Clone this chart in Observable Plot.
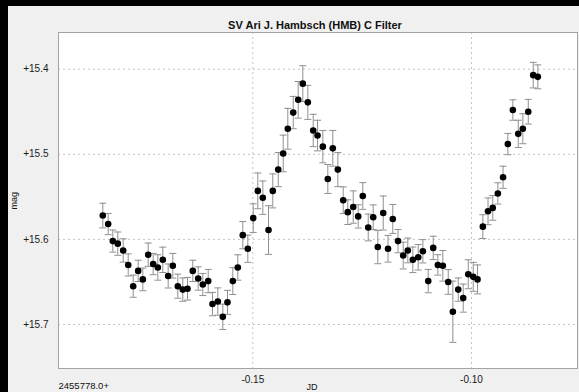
<!DOCTYPE html>
<html>
<head>
<meta charset="utf-8">
<script src="https://cdn.jsdelivr.net/npm/d3@7"></script>
<script src="https://cdn.jsdelivr.net/npm/@observablehq/plot@0.6"></script>
<style>
  html, body { margin: 0; padding: 0; background: #ffffff; }
  #wrap { position: relative; width: 579px; height: 392px; overflow: hidden; background: #f0f0f0; }
  #wrap svg { position: absolute; left: 0; top: 0; }
  .bl { position: absolute; background: #000; }
</style>
</head>
<body>
<div id="wrap">
  <div class="bl" style="left:0;top:0;width:579px;height:6px;z-index:2"></div>
  <div class="bl" style="left:0;top:0;width:8px;height:392px;z-index:2"></div>
</div>
<script>
// Julian date offsets from 2455778.0
const jd = [
  -0.18430, -0.18307, -0.18201, -0.18087, -0.17964, -0.17849, -0.17735, -0.17621, -0.17515, -0.17392,
  -0.17278, -0.17172, -0.17058, -0.16935, -0.16829, -0.16715, -0.16601, -0.16493, -0.16372, -0.16249,
  -0.16143, -0.16020, -0.15922, -0.15800, -0.15686, -0.15579, -0.15457, -0.15343, -0.15229, -0.15114,
  -0.14991, -0.14886, -0.14771, -0.14641, -0.14543, -0.14419, -0.14305, -0.14200, -0.14076, -0.13962,
  -0.13857, -0.13742, -0.13619, -0.13520, -0.13399, -0.13285, -0.13171, -0.13056, -0.12933, -0.12828,
  -0.12704, -0.12590, -0.12485, -0.12361, -0.12247, -0.12142, -0.12018, -0.11908, -0.11799, -0.11680,
  -0.11561, -0.11456, -0.11341, -0.11218, -0.11112, -0.10989, -0.10875, -0.10769, -0.10655, -0.10532,
  -0.10426, -0.10303, -0.10189, -0.10074, -0.09960, -0.09862, -0.09740, -0.09622, -0.09514, -0.09397,
  -0.09278, -0.09169, -0.09054, -0.08931, -0.08826, -0.08702, -0.08588, -0.08483
];
// magnitudes
const mag = [
  15.572, 15.582, 15.602, 15.605, 15.613, 15.630, 15.655, 15.637, 15.647, 15.618,
  15.629, 15.633, 15.624, 15.643, 15.631, 15.655, 15.659, 15.658, 15.637, 15.646,
  15.653, 15.649, 15.676, 15.673, 15.691, 15.674, 15.649, 15.633, 15.595, 15.611,
  15.575, 15.543, 15.551, 15.589, 15.543, 15.518, 15.499, 15.470, 15.451, 15.436,
  15.417, 15.439, 15.472, 15.478, 15.491, 15.529, 15.493, 15.518, 15.554, 15.568,
  15.562, 15.573, 15.549, 15.586, 15.574, 15.609, 15.569, 15.611, 15.576, 15.602,
  15.619, 15.613, 15.624, 15.621, 15.614, 15.649, 15.610, 15.630, 15.631, 15.650,
  15.685, 15.659, 15.669, 15.641, 15.644, 15.647, 15.585, 15.567, 15.563, 15.546,
  15.527, 15.488, 15.448, 15.476, 15.470, 15.450, 15.407, 15.409
];
// magnitude uncertainties
const err = [
  0.0145, 0.0125, 0.0130, 0.0137, 0.0137, 0.0130, 0.0130, 0.0125, 0.0133, 0.0137,
  0.0125, 0.0149, 0.0149, 0.0141, 0.0145, 0.0141, 0.0137, 0.0133, 0.0125, 0.0137,
  0.0130, 0.0137, 0.0137, 0.0160, 0.0149, 0.0141, 0.0157, 0.0149, 0.0160, 0.0160,
  0.0168, 0.0210, 0.0196, 0.0286, 0.0200, 0.0200, 0.0215, 0.0240, 0.0190, 0.0215,
  0.0210, 0.0200, 0.0190, 0.0180, 0.0190, 0.0170, 0.0210, 0.0200, 0.0157, 0.0145,
  0.0190, 0.0137, 0.0157, 0.0157, 0.0145, 0.0196, 0.0200, 0.0157, 0.0170, 0.0137,
  0.0157, 0.0145, 0.0150, 0.0150, 0.0137, 0.0137, 0.0137, 0.0120, 0.0180, 0.0145,
  0.0360, 0.0137, 0.0165, 0.0170, 0.0170, 0.0170, 0.0140, 0.0157, 0.0145, 0.0125,
  0.0130, 0.0125, 0.0120, 0.0160, 0.0176, 0.0145, 0.0150, 0.0140
];
const xTicks = [-0.15, -0.10];
const yTicks = [15.4, 15.5, 15.6, 15.7];
const title = "SV Ari J. Hambsch (HMB) C Filter";
const xLabel = "JD";
const xOffsetLabel = "2455778.0+";
const yLabel = "mag";

const data = jd.map((x, i) => ({jd: x, mag: mag[i], err: err[i]}));

const cap = { draw(ctx) { ctx.moveTo(-3.5, 0); ctx.lineTo(3.5, 0); } };
const barColor = "#8f8f8f";
const grid = {stroke: "#c4c4c4", strokeOpacity: 1, strokeDasharray: "2,3"};

const chart = Plot.plot({
  width: 579,
  height: 392,
  marginLeft: 58,
  marginRight: 2,
  marginTop: 32,
  marginBottom: 24,
  style: {background: "transparent", fontFamily: "'Liberation Sans', Arial, sans-serif", fontSize: "10px", color: "#1a1a1a"},
  x: {domain: [-0.19443, -0.07576]},
  y: {domain: [15.3569, 15.7517], reverse: true},
  marks: [
    Plot.frame({fill: "white"}),
    Plot.gridX(xTicks, grid),
    Plot.gridY(yTicks, grid),
    Plot.ruleX(data, {x: "jd", y1: d => d.mag - d.err, y2: d => d.mag + d.err, stroke: barColor, strokeWidth: 1}),
    Plot.dot(data, {x: "jd", y: d => d.mag - d.err, symbol: cap, r: 3, fill: "none", stroke: barColor, strokeWidth: 1}),
    Plot.dot(data, {x: "jd", y: d => d.mag + d.err, symbol: cap, r: 3, fill: "none", stroke: barColor, strokeWidth: 1}),
    Plot.dot(data, {x: "jd", y: "mag", r: 3.3, fill: "#000", stroke: null}),
    Plot.frame({stroke: "#a3a3a3"}),
    Plot.axisX(xTicks, {tickSize: 0, tickPadding: 7, tickFormat: d => d.toFixed(2), label: null}),
    Plot.axisY(yTicks, {tickSize: 0, tickPadding: 10, tickFormat: d => "+" + d.toFixed(1), label: null}),
    Plot.text([title], {frameAnchor: "top", dx: -3, dy: -11, fontWeight: "bold", fontSize: 11, fill: "#111"}),
    Plot.text([yLabel], {frameAnchor: "left", dx: -44, dy: 9, rotate: -90, fontSize: 9, fill: "#111"}),
    Plot.text([xLabel], {frameAnchor: "bottom", dx: -6, dy: 15, lineAnchor: "top", fontSize: 9, fill: "#111"}),
    Plot.text([xOffsetLabel], {frameAnchor: "bottom-left", dy: 14, textAnchor: "start", lineAnchor: "top", fontSize: 9.5, fill: "#111"})
  ]
});
document.getElementById("wrap").appendChild(chart);
</script>
</body>
</html>
